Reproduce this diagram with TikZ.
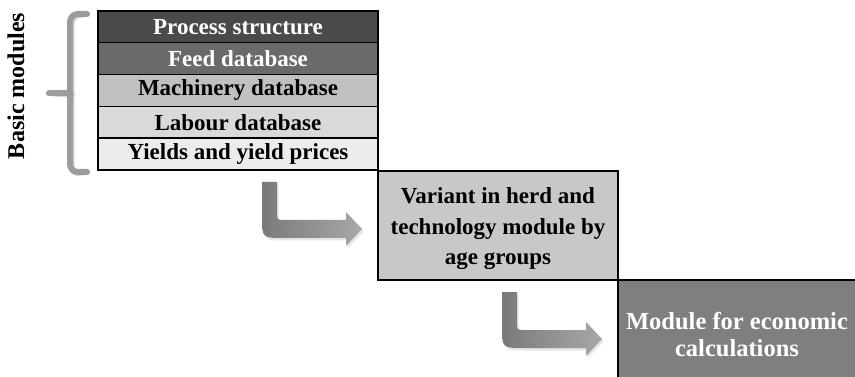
\documentclass[tikz,border=0pt]{standalone}
\usepackage{fontspec}
\setmainfont{Liberation Serif}
\usetikzlibrary{shadows}
\definecolor{cPS}{HTML}{4A4A4A}
\definecolor{cFD}{HTML}{6A6A6A}
\definecolor{cMD}{HTML}{C0C0C0}
\definecolor{cLD}{HTML}{D9D9D9}
\definecolor{cYP}{HTML}{ECECEC}
\definecolor{cVar}{HTML}{C8C8C8}
\definecolor{cMod}{HTML}{7F7F7F}
\definecolor{arrowL}{HTML}{7A7A7A}
\definecolor{arrowR}{HTML}{A8A8A8}
\definecolor{braceC}{HTML}{9C9C9C}
\begin{document}
\begin{tikzpicture}[x=1pt,y=-1pt,
  txt/.style={font=\fontsize{23}{30.5}\selectfont\bfseries, align=center},
  row/.style={txt, draw=black, line width=1.4pt, minimum width=280pt, minimum height=31.8pt, inner sep=0pt, outer sep=0pt},
  big/.style={txt, draw=black, line width=1.6pt, minimum width=240pt, minimum height=109pt, inner sep=0pt, outer sep=0pt},
  bent/.style={left color=arrowL, right color=arrowR, draw=none, drop shadow={shadow xshift=1.5pt, shadow yshift=-2.5pt, opacity=0.2}},
  bracestroke/.style={draw=braceC, line width=6pt, line cap=round},
  braceshadow/.style={draw=black, opacity=0.15, line width=6pt, line cap=round}]
\useasboundingbox (0,0) rectangle (855,377);
\clip (0,0) rectangle (855,377);
\fill[white] (0,0) rectangle (855,377);

% stacked basic modules
\node[row, fill=cPS, text=white] (ps) at (238,26.9)  {\raisebox{-1.5pt}{Process structure}};
\node[row, fill=cFD, text=white] (fd) at (238,58.7)  {\raisebox{-1.5pt}{Feed database}};
\node[row, fill=cMD] (md) at (238,90.5)  {\raisebox{-1.5pt}{Machinery database}};
\node[row, fill=cLD] (ld) at (238,122.3) {\raisebox{-1.5pt}{Labour database}};
\node[row, fill=cYP] (yp) at (238,154.1) {\raisebox{-1.5pt}{Yields and yield prices}};
\draw[line width=1.8pt] (ps.north west) rectangle (yp.south east);

% variant and module boxes
\node[big, fill=cVar] (var) at (498,225.5) {};
\node[txt] (vartext) at (498,229) {Variant in herd and\\technology module by\\age groups};
\node[big, fill=cMod] (mod) at (738,334.5) {};
\node[txt, text=white, font=\fontsize{24.5}{27.5}\selectfont\bfseries] (modtext) at (737,334.5) {Module for economic\\calculations};

% bracket
\coordinate (bt) at (87,14);
\coordinate (bb) at (87,172);
\coordinate (bn) at (49,93);
\begin{scope}[shift={(1.5,2)}]
  \draw[braceshadow, rounded corners=8pt] (bt) -- (70,14) -- (70,172) -- (bb);
  \draw[braceshadow] (70,93) -- (bn);
\end{scope}
\draw[bracestroke, rounded corners=8pt] (bt) -- (70,14) -- (70,172) -- (bb);
\draw[bracestroke] (70,93) -- (bn);

\node[txt, rotate=90, font=\fontsize{24}{30}\selectfont\bfseries] (basic) at (16,86) {Basic modules};

% bent arrows
\foreach \dx/\dy in {0/0,240/110}{
  \begin{scope}[shift={(\dx,\dy)}]
    \path[bent] (262,182) -- (277,182) -- (277,212) .. controls (277,220) .. (285,220)
      -- (346,220) -- (346,212) -- (362,229) -- (346,246) -- (346,238)
      -- (284,238) .. controls (262,238) .. (262,216) -- cycle;
  \end{scope}
}
\end{tikzpicture}
\end{document}
